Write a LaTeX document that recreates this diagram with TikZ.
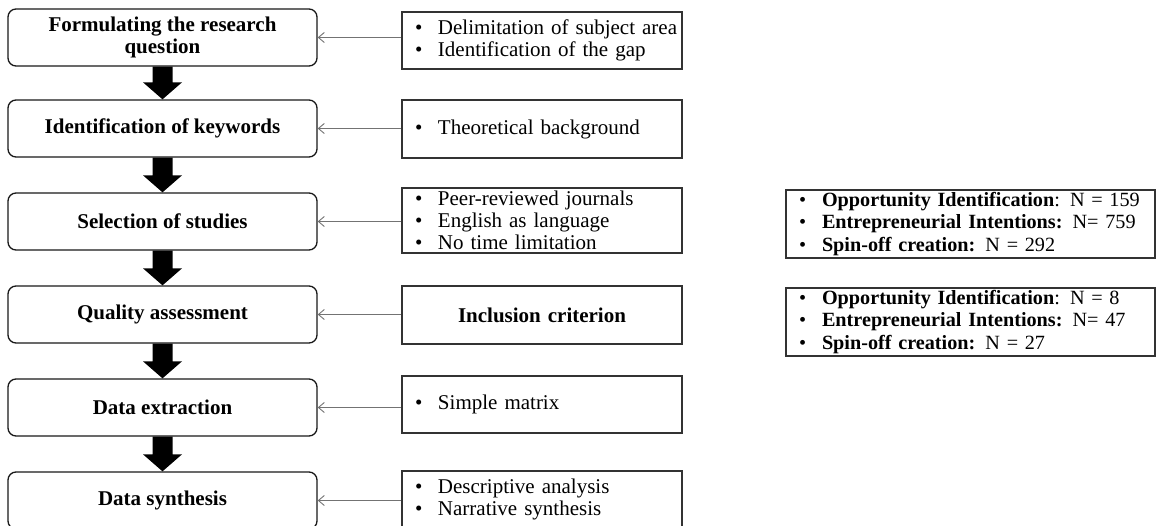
\documentclass[tikz,border=0pt]{standalone}
\usepackage{fontspec}
\setmainfont{Liberation Serif}
\usetikzlibrary{arrows.meta,calc}
\newcommand{\bitem}[1]{\hspace*{13pt}\makebox[23pt][l]{\textbullet}#1}
\newcommand{\bigarr}[2]{%
  \fill[black] ($(#1.south)+(-10,0)$) -- ($(#1.south)+(10,0)$) -- ($(#2.north)+(10,-17)$) -- ($(#2.north)+(19.5,-17)$) -- (#2.north) -- ($(#2.north)+(-19.5,-17)$) -- ($(#2.north)+(-10,-17)$) -- cycle;}
\begin{document}
\begin{tikzpicture}[x=1pt,y=-1pt,
  lbox/.style={draw=black!90, line width=1.3pt, rounded corners=8pt, minimum width=309pt, minimum height=57pt, align=center, inner sep=2pt, font=\fontsize{21}{22}\selectfont\bfseries},
  rbox/.style={draw=black!80, line width=1.3pt, minimum width=280pt, text width=280pt, inner xsep=0pt, inner ysep=0pt, align=left, font=\fontsize{21}{22}\selectfont},
  fbox/.style={draw=black!80, line width=1.3pt, minimum width=369pt, minimum height=68pt, text width=369pt, inner xsep=0pt, inner ysep=0pt, align=left, font=\fontsize{20.2}{22.5}\selectfont},
  conn/.style={draw=black!55, line width=0.9pt, -{Straight Barb[length=6pt,width=10pt,line width=0.9pt]}}]
\fill[white] (0,0) rectangle (1157,526);
\useasboundingbox (0,0) rectangle (1157,526);

\node[lbox] (l1) at (162.5,37.5) {Formulating the research\\question};
\node[lbox] (l2) at (162.5,128.5) {Identification of keywords};
\node[lbox] (l3) at (162.5,221.5) {Selection of studies};
\node[lbox] (l4) at (162.5,314.5) {Quality assessment};
\node[lbox] (l5) at (162.5,407.5) {Data extraction};
\node[lbox] (l6) at (162.5,500.5) {Data synthesis};

\node[rbox, minimum height=57pt] (r1) at (542,40.5) {\bitem{Delimitation of subject area}\\\bitem{Identification of the gap}};
\node[rbox, minimum height=58pt] (r2) at (542,129) {\bitem{Theoretical background}};
\node[rbox, minimum height=65pt] (r3) at (542,220.5) {\bitem{Peer-reviewed journals}\\\bitem{English as language}\\\bitem{No time limitation}};
\node[rbox, minimum height=58pt, align=center] (r4) at (542,315) {\textbf{Inclusion criterion}};
\node[rbox, minimum height=57pt] (r5) at (542,404.5) {\bitem{Simple matrix}};
\node[rbox, minimum height=57pt] (r6) at (542,499.5) {\bitem{Descriptive analysis}\\\bitem{Narrative synthesis}};

\node[fbox] (fa) at (970.5,224) {\bitem{\textbf{Opportunity Identification}: N = 159}\\\bitem{\textbf{Entrepreneurial Intentions:} N= 759}\\\bitem{\textbf{Spin-off creation:} N = 292}};
\node[fbox] (fb) at (970.5,322) {\bitem{\textbf{Opportunity Identification}: N = 8}\\\bitem{\textbf{Entrepreneurial Intentions:} N= 47}\\\bitem{\textbf{Spin-off creation:} N = 27}};

\bigarr{l1}{l2}
\bigarr{l2}{l3}
\bigarr{l3}{l4}
\bigarr{l4}{l5}
\bigarr{l5}{l6}

\foreach \i in {1,...,6} {\draw[conn] (r\i.west |- l\i.east) -- (l\i.east);}
\end{tikzpicture}
\end{document}
